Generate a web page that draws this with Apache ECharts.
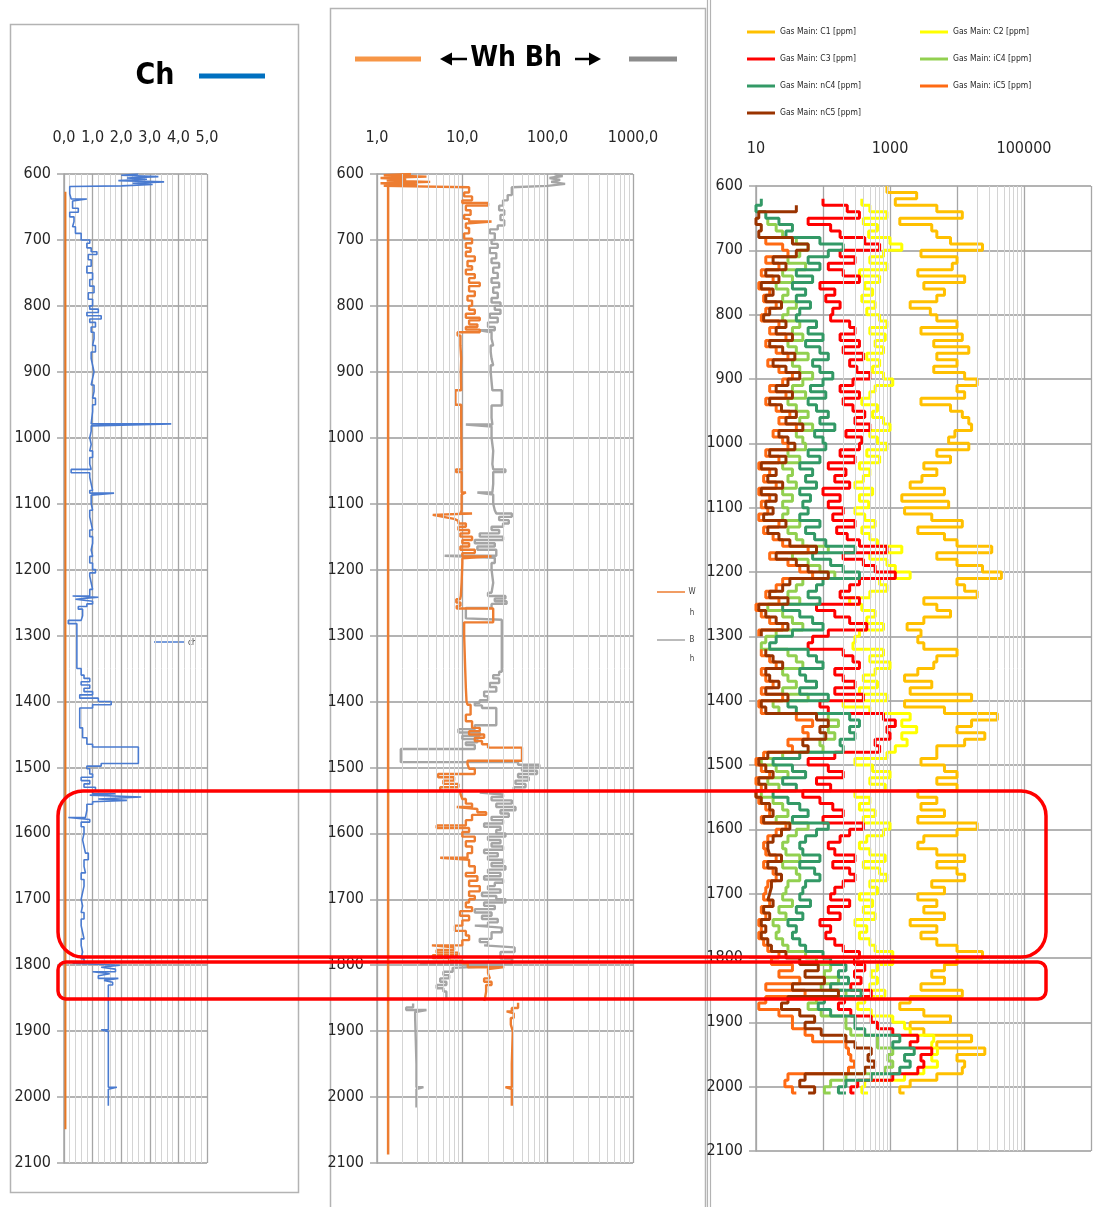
<!DOCTYPE html>
<html>
<head>
<meta charset="utf-8">
<script src="https://cdn.jsdelivr.net/npm/echarts@6/dist/echarts.min.js"></script>
<style>
html, body { margin: 0; padding: 0; background: #fff; }
#chart { width: 1116px; height: 1207px; }
</style>
</head>
<body>
<div id="chart"></div>
<script>
// Ch log: [depth, value]
var chLog = [
  [600, 2.6], [602, 2.0], [604, 3.3], [606, 2.2], [608, 2.9], [610, 1.9], [612, 3.5], [614, 2.4], [616, 3.1], [618, 2.0],
  [619, 0.2], [630, 0.25], [638, 0.8], [641, 0.3], [652, 0.5], [658, 0.2], [665, 0.35], [672, 0.3], [680, 0.4], [690, 0.6],
  [700, 0.9], [705, 0.8], [712, 0.95], [718, 1.15], [722, 0.85], [730, 0.95], [740, 0.8], [750, 1.0], [760, 0.9], [770, 1.05],
  [780, 0.85], [790, 1.0], [800, 0.9], [805, 1.2], [810, 0.8], [815, 1.3], [820, 0.9], [825, 1.1], [832, 0.95], [840, 1.05],
  [850, 1.0], [860, 1.1], [870, 0.95], [880, 1.0], [890, 1.05], [900, 1.0], [910, 0.95], [920, 1.05], [930, 1.0], [940, 1.1],
  [950, 1.0], [960, 0.95], [979, 3.75], [982, 0.95], [990, 0.9], [1000, 0.95], [1010, 0.9], [1020, 1.0], [1030, 0.9], [1040, 0.95],
  [1048, 0.25], [1053, 0.9], [1060, 0.95], [1070, 1.0], [1080, 0.9], [1084, 1.75], [1087, 0.95], [1100, 1.0], [1110, 0.9], [1120, 0.95],
  [1130, 1.0], [1140, 0.9], [1150, 1.0], [1160, 0.95], [1170, 1.0], [1180, 0.9], [1190, 1.0], [1200, 1.1], [1205, 0.9], [1210, 0.95],
  [1220, 1.0], [1230, 0.9], [1240, 0.3], [1242, 1.2], [1245, 0.4], [1248, 1.0], [1252, 0.8], [1256, 0.5], [1260, 0.65], [1270, 0.6],
  [1277, 0.15], [1282, 0.45], [1350, 0.6], [1360, 0.7], [1365, 0.9], [1370, 0.6], [1375, 0.9], [1380, 0.7], [1385, 1.0], [1390, 0.55],
  [1395, 1.2], [1400, 1.65], [1405, 1.0], [1410, 0.55], [1420, 0.55], [1440, 0.65], [1455, 0.8], [1465, 1.0], [1469, 2.6], [1494, 1.3],
  [1498, 0.8], [1502, 0.9], [1510, 1.0], [1515, 0.6], [1520, 0.9], [1525, 0.7], [1530, 1.1], [1535, 1.0], [1540, 1.8], [1542, 0.9],
  [1545, 2.7], [1548, 1.2], [1550, 2.2], [1552, 1.0], [1556, 0.8], [1565, 0.75], [1576, 0.15], [1579, 0.9], [1583, 0.6], [1590, 0.7],
  [1600, 0.65], [1610, 0.7], [1620, 0.75], [1630, 0.85], [1640, 0.7], [1650, 0.75], [1660, 0.6], [1670, 0.7], [1680, 0.65], [1690, 0.6],
  [1700, 0.65], [1710, 0.6], [1720, 0.7], [1730, 0.6], [1740, 0.65], [1750, 0.7], [1760, 0.6], [1770, 0.65], [1780, 0.6], [1790, 0.7],
  [1797, 0.3], [1800, 1.95], [1803, 1.3], [1806, 1.8], [1810, 1.0], [1813, 1.6], [1816, 1.2], [1820, 1.9], [1823, 1.4], [1826, 1.7],
  [1830, 1.55], [1898, 1.3], [1901, 1.55], [1985, 1.85], [1988, 1.55], [2013, 1.55]
];
var chBase = [[627, 0.05], [2049, 0.05]];

// Wh / Bh logs: [depth, value], null = gap
var whLog = [
  [600, 2.5], [602, 1.2], [604, 3.8], [606, 1.1], [608, 2.2], [610, 1.3], [612, 4.2], [614, 1.1], [616, 3.0], [618, 1.2],
  [620, 12], [628, 10.5], [634, 13], [640, 10], [644, 20], [648, 11], [655, 12.5], [662, 10.5], [668, 12], [672, 22],
  [675, 11], [682, 12], [690, 10.5], [698, 13], [705, 11], [712, 12.5], [718, 11], [725, 14], [732, 11.5], [740, 13],
  [745, 11], [752, 14], [758, 12], [765, 16], [770, 12], [778, 14], [785, 11.5], [792, 13], [800, 12], [806, 14],
  [812, 11], [818, 16], [822, 12], [828, 15], [832, 11], [836, 16], [840, 8.8], [845, 9.5], [860, 9.7], [880, 9.6],
  [900, 9.7], [928, 8.3], [950, 9.7], [980, 9.8], [1048, 8.4], [1052, 9.8], [1083, 11], [1086, 9.8], [1110, 9.5], [1115, 13],
  [1117, 4.5], [1120, 6], [1123, 8], [1126, 9], [1130, 11], [1135, 9], [1140, 12], [1145, 9.5], [1150, 13], [1155, 10],
  [1160, 12], [1165, 9.5], [1170, 14], [1175, 10], [1180, 22], [1183, 10], [1190, 9.8], [1220, 9.6], [1240, 9.4], [1245, 8.5],
  [1250, 9.5], [1255, 8.6], [1259, 23], [1280, 10.5], [1300, 10.8], [1350, 11], [1380, 11.2], [1400, 11.5], [1405, 12.5], [1420, 11],
  [1430, 13], [1440, 16], [1445, 12], [1450, 18], [1455, 14], [1460, 17], [1465, 20], [1470, 50], [1490, 11.5], [1495, 12],
  [1502, 14], [1510, 5.2], [1515, 8], [1520, 6], [1525, 9], [1530, 5.5], [1535, 9.5], [1540, 10], [1548, 11], [1555, 13],
  [1560, 8.6], [1563, 15], [1568, 19], [1572, 13], [1580, 11], [1588, 5], [1592, 12], [1598, 10], [1605, 14], [1612, 11],
  [1620, 13], [1630, 11.5], [1637, 5.5], [1640, 12], [1650, 14], [1660, 11], [1665, 15], [1672, 12], [1680, 16], [1688, 12],
  [1695, 14], [1700, 12], [1705, 11], [1712, 13], [1718, 9.4], [1725, 12], [1732, 10], [1740, 8.2], [1748, 11], [1755, 12],
  [1762, 10], [1770, 4.4], [1773, 8], [1777, 5], [1781, 9], [1785, 4.5], [1789, 7], [1793, 10], [1797, 11.6], [1803, 31],
  [1806, 20], [1812, 19], [1815, 21], [1820, 18], [1825, 22], [1830, 19], [1840, 18.5], [1849, 18], [1852, 18], [1854, null],
  [1857, 45], [1865, 38], [1870, 33], [1873, 40], [1880, 37], [1890, 39], [1900, 38], [1950, 38], [1985, 32], [1988, 38],
  [2013, 38]
];
var bhLog = [
  [600, 120], [603, 150], [606, 105], [609, 140], [612, 110], [615, 160], [618, 100], [620, 38], [632, 34], [640, 30],
  [648, 27], [655, 31], [662, 28], [670, 31], [678, 26], [684, 21], [690, 24], [700, 22], [706, 26], [712, 21],
  [720, 25], [728, 22], [735, 27], [742, 23], [750, 26], [758, 22], [765, 27], [772, 23], [780, 26], [788, 22],
  [795, 28], [800, 24], [806, 28], [812, 21], [818, 26], [825, 20], [832, 24], [837, 16], [840, 22], [850, 23],
  [860, 21.5], [870, 22], [880, 23], [890, 21.5], [900, 22], [915, 22.5], [928, 29], [951, 22], [970, 22.5], [980, 11],
  [983, 22], [1000, 23], [1020, 22.5], [1040, 23], [1048, 32], [1052, 23], [1070, 22.5], [1083, 15], [1086, 23], [1100, 24],
  [1110, 25], [1115, 38], [1120, 27], [1125, 35], [1130, 30], [1135, 22], [1140, 27], [1145, 16], [1150, 30], [1155, 14],
  [1160, 24], [1165, 15], [1170, 25], [1179, 6.2], [1182, 24], [1190, 22], [1200, 23], [1220, 22], [1235, 20], [1240, 32],
  [1244, 24], [1248, 33], [1252, 22], [1258, 11], [1274, 11], [1276, 29], [1355, 27], [1360, 23], [1365, 27], [1372, 21],
  [1378, 25], [1385, 18], [1392, 20], [1398, 16], [1402, 14], [1406, 17], [1410, 25], [1436, 14], [1442, 9], [1447, 16],
  [1452, 10], [1457, 15], [1462, 11], [1466, 14], [1472, 1.9], [1492, 45], [1496, 80], [1500, 50], [1505, 75], [1510, 45],
  [1515, 60], [1520, 42], [1525, 55], [1530, 40], [1535, 50], [1538, 16], [1541, 30], [1545, 22], [1550, 38], [1555, 25],
  [1560, 42], [1565, 28], [1570, 35], [1575, 22], [1580, 30], [1585, 18], [1590, 28], [1595, 25], [1600, 32], [1605, 20],
  [1610, 28], [1615, 22], [1620, 30], [1625, 18], [1630, 26], [1635, 20], [1640, 30], [1645, 22], [1650, 32], [1655, 20],
  [1660, 28], [1665, 18], [1670, 30], [1675, 24], [1680, 20], [1685, 28], [1690, 17], [1695, 25], [1700, 32], [1705, 18],
  [1710, 24], [1715, 14], [1720, 22], [1725, 17], [1730, 26], [1735, 20], [1740, 14], [1743, 29], [1750, 22], [1760, 16],
  [1765, 20], [1770, 18], [1773, 41], [1780, 28], [1790, 38], [1798, 3.2], [1801, 30], [1804, 7.7], [1810, 6], [1815, 7],
  [1820, 5.5], [1825, 6.5], [1830, 5], [1835, 6], [1840, 6.5], [1849, 6.5], [1852, null], [1858, 2.65], [1864, 2.2], [1868, 3.8],
  [1871, 2.8], [1880, 2.9], [1950, 2.9], [1985, 3.5], [1988, 2.9], [2016, 2.9]
];
var whBase = [[612, 1.35], [2087, 1.35]];

// Gas readings every 10 m from 600 m (ppm)
var gasNames = ['Gas Main: C1 [ppm]', 'Gas Main: C2 [ppm]', 'Gas Main: C3 [ppm]', 'Gas Main: iC4 [ppm]',
  'Gas Main: nC4 [ppm]', 'Gas Main: iC5 [ppm]', 'Gas Main: nC5 [ppm]'];
var gasColors = ['#ffc000', '#ffff00', '#ff0000', '#92d050', '#339966', '#ff6a13', '#993300'];
var gasDepth = [];
for (var d = 600; d <= 2010; d += 10) gasDepth.push(d);

var c1 = [
  900, 2500, 1200, 5000, 12000, 1400, 4200, 5000, 8000, 24000,
  2900, 10000, 8500, 2600, 13000, 3200, 6500, 5000, 2000, 4000,
  5000, 10000, 2900, 12000, 4500, 15000, 5000, 10000, 4500, 13000,
  20000, 10000, 13000, 2900, 8000, 12000, 15000, 16500, 9300, 7500,
  15000, 5000, 8000, 3200, 5000, 3000, 2000, 6500, 1500, 7500,
  1650, 4200, 12000, 2600, 6500, 10000, 33000, 5000, 10000, 24000,
  46000, 10000, 13000, 20000, 3200, 5000, 8000, 3200, 1800, 2900,
  2600, 3200, 10000, 5000, 4500, 2600, 1650, 4200, 2000, 16500,
  1650, 6500, 40000, 16500, 10000, 26000, 13000, 5000, 5000, 2900,
  6500, 10000, 5000, 10000, 2600, 5000, 2900, 6500, 2600, 20000,
  10000, 3200, 2600, 5000, 13000, 5000, 10000, 13000, 4200, 6500,
  2600, 5000, 3200, 6500, 2000, 5000, 2900, 5000, 10000, 24000,
  10000, 6500, 4200, 6500, 2900, 12000, 2000, 1400, 3200, 8000,
  2000, 3200, 16500, 5000, 26000, 10000, 13000, 12000, 5000, 2000,
  1400, 1650
];
var c2 = [
  null, null, 380, 500, 900, 400, 650, 480, 1000, 1500,
  800, 500, 900, 350, 700, 420, 550, 380, 600, 450,
  700, 900, 500, 850, 600, 800, 450, 700, 550, 800,
  1100, 600, 500, 380, 650, 550, 800, 1000, 500, 650,
  900, 450, 700, 350, 500, 400, 300, 550, 350, 480,
  300, 420, 600, 380, 500, 650, 1500, 500, 900, 1200,
  2000, 700, 900, 500, 250, 380, 600, 450, 800, 350,
  300, 280, 800, 500, 1000, 600, 400, 650, 350, 900,
  200, 500, 2000, 1500, 2500, 1500, 1800, 1200, 900, 300,
  550, 1000, 500, 850, 300, 500, 350, 600, 400, 1000,
  800, 450, 350, 500, 850, 400, 700, 900, 500, 650,
  350, 550, 400, 600, 300, 450, 350, 500, 600, 1100,
  1100, 650, 525, 650, 500, 840, 420, 330, 525, 1100,
  1650, 2000, 4500, 4200, 5100, 4200, 5100, 3200, 1650, 420,
  380, 470
];
var c3 = [
  null, null, 100, 230, 350, 60, 130, 180, 420, 700,
  180, 300, 120, 200, 350, 90, 150, 110, 180, 140,
  130, 250, 300, 180, 350, 200, 400, 250, 320, 500,
  280, 180, 350, 200, 280, 420, 300, 500, 220, 380,
  350, 180, 300, 120, 220, 150, 250, 100, 180, 120,
  200, 140, 300, 160, 230, 350, 900, 200, 400, 600,
  1200, 350, 250, 180, 350, 80, 150, 250, 450, 120,
  70, 60, 200, 280, 350, 150, 200, 300, 150, 400,
  90, 120, 800, 1200, 900, 1000, 600, 700, 150, 60,
  120, 200, 80, 130, 50, 90, 140, 200, 100, 400,
  250, 180, 120, 150, 300, 140, 250, 300, 200, 150,
  130, 250, 120, 180, 90, 130, 110, 150, 200, 350,
  295, 420, 295, 370, 260, 525, 210, 170, 260, 525,
  650, 1100, 2600, 2000, 4200, 2900, 3200, 2600, 1100, 330,
  260, 295
];
var ic4 = [
  null, null, null, null, null, 15, 20, 25, 40, 60,
  45, 30, 55, 25, 35, 20, 30, 25, 40, 30,
  25, 45, 35, 50, 30, 40, 60, 35, 45, 70,
  50, 35, 55, 30, 40, 60, 45, 70, 40, 50,
  55, 30, 45, 25, 35, 30, 40, 25, 35, 25,
  30, 25, 45, 30, 40, 50, 120, 35, 60, 90,
  150, 50, 40, 30, 45, 15, 25, 35, 50, 20,
  14, 12, 30, 40, 50, 25, 30, 40, 25, 60,
  18, 22, 120, 170, 120, 150, 90, 100, 25, 12,
  20, 30, 15, 22, 12, 18, 25, 30, 20, 60,
  40, 30, 25, 28, 45, 25, 40, 45, 30, 28,
  25, 35, 22, 28, 18, 22, 20, 25, 30, 55,
  80, 130, 105, 170, 94, 220, 80, 60, 94, 220,
  220, 260, 650, 650, 1100, 930, 1100, 840, 220, 130,
  105, 130
];
var nc4 = [
  null, null, 12, 10, 14, 22, 35, 28, 90, 200,
  120, 60, 90, 40, 70, 35, 55, 40, 65, 45,
  40, 80, 60, 100, 55, 90, 120, 70, 90, 140,
  100, 65, 110, 60, 80, 120, 90, 150, 75, 100,
  110, 60, 90, 45, 70, 55, 80, 45, 65, 50,
  60, 45, 90, 55, 75, 110, 300, 70, 130, 200,
  350, 100, 80, 60, 90, 25, 45, 70, 100, 35,
  20, 16, 60, 80, 100, 45, 55, 80, 45, 120,
  30, 40, 250, 350, 250, 300, 180, 200, 45, 18,
  35, 55, 25, 40, 18, 30, 45, 60, 35, 120,
  80, 55, 45, 50, 90, 45, 75, 90, 55, 50,
  45, 65, 40, 50, 30, 40, 35, 45, 55, 100,
  130, 220, 170, 240, 130, 370, 105, 85, 130, 300,
  300, 420, 1400, 1100, 2300, 1650, 2000, 1400, 525, 220,
  170, 220
];
var ic5 = [
  null, null, null, null, null, null, null, null, 14, 25,
  30, 14, 22, 12, 18, 11, 16, 13, 20, 14,
  12, 22, 16, 28, 14, 20, 30, 15, 22, 35,
  25, 16, 28, 14, 20, 32, 22, 40, 18, 25,
  30, 14, 22, 11, 16, 13, 20, 11, 16, 12,
  15, 11, 22, 13, 18, 25, 60, 16, 30, 45,
  70, 25, 20, 14, 22, 10, 12, 16, 25, 11,
  null, null, 12, 16, 20, 12, 14, 18, 12, 25,
  11, 12, 40, 70, 50, 60, 30, 35, 13, 10,
  12, 16, 10, 12, 10, 11, 14, 16, 12, 28,
  20, 15, 13, 14, 20, 13, 18, 20, 15, 14,
  13, 16, 12, 14, 11, 12, 11, 13, 15, 22,
  17, 35, 22, 45, 14, 54, 14, 11, 22, 35,
  35, 54, 70, 220, 240, 260, 295, 240, 30, 27,
  35, 40
];
var nc5 = [
  null, null, null, 40, 11, 10, 12, 11, 35, 60,
  40, 18, 28, 14, 22, 12, 18, 14, 24, 16,
  13, 28, 20, 35, 16, 25, 38, 18, 28, 45,
  30, 20, 35, 16, 24, 40, 28, 50, 22, 30,
  38, 16, 28, 12, 20, 15, 25, 12, 20, 14,
  18, 13, 28, 15, 22, 32, 80, 20, 40, 60,
  120, 32, 25, 16, 30, 11, 14, 20, 30, 12,
  null, null, 14, 18, 25, 14, 16, 22, 14, 30,
  12, 14, 80, 120, 90, 110, 50, 60, 15, 11,
  14, 18, 11, 14, 10, 12, 16, 18, 13, 32,
  24, 18, 15, 16, 24, 15, 20, 24, 17, 16,
  15, 18, 13, 16, 12, 14, 12, 15, 17, 28,
  45, 85, 54, 105, 35, 170, 30, 24, 45, 75,
  54, 94, 220, 300, 525, 470, 590, 420, 54, 45,
  75, 60
];
var gasValues = [c1, c2, c3, ic4, nc4, ic5, nc5];

var FONT = '"DejaVu Sans Condensed", "Liberation Sans Narrow", "Liberation Sans", sans-serif';
var MAJOR = '#a6a6a6';
var MINOR = '#d4d4d4';

function toPoints(log) {
  return log.map(function (p) { return [p[1] == null ? '-' : p[1], p[0]]; });
}
function gasPoints(vals) {
  return gasDepth.map(function (dep, i) { return [vals[i] == null ? '-' : vals[i], dep]; });
}

function depthAxis(grid) {
  return {
    type: 'value', gridIndex: grid, inverse: true, min: 600, max: 2100, interval: 100,
    axisLine: { show: true, lineStyle: { color: MAJOR, width: 1.5 } },
    axisTick: { show: true, length: 7, lineStyle: { color: MAJOR, width: 1.5 } },
    axisLabel: { margin: 13, fontFamily: FONT, fontSize: 16, color: '#262626',
      formatter: function (v) { return String(v); } },
    splitLine: { show: true, lineStyle: { color: '#9a9a9a', width: 1.6 } }
  };
}

function logLine(name, xi, data, color, width, z) {
  return {
    name: name, type: 'line', xAxisIndex: xi, yAxisIndex: xi, data: data,
    step: 'start', showSymbol: false, symbol: 'none', z: z || 3,
    lineStyle: { color: color, width: width }, itemStyle: { color: color },
    emphasis: { disabled: true }, clip: true
  };
}

function minorGrid(xi, vals) {
  return {
    type: 'line', xAxisIndex: xi, yAxisIndex: xi, data: [], silent: true, z: 1,
    markLine: {
      silent: true, symbol: ['none', 'none'], label: { show: false },
      lineStyle: { color: MINOR, width: 1, type: 'solid' },
      emphasis: { disabled: true },
      data: vals.map(function (v) { return { xAxis: v }; })
    }
  };
}

var minor2 = [], minor3 = [];
[1, 10, 100].forEach(function (b) { for (var k = 2; k <= 9; k++) minor2.push(b * k); });
[100, 10000].forEach(function (b) { for (var k = 2; k <= 9; k++) minor3.push(b * k); });

var series = [
  minorGrid(1, minor2),
  minorGrid(2, minor3),
  logLine('Ch', 0, toPoints(chLog), '#4a7bd0', 1.6),
  logLine('ChBase', 0, toPoints(chBase), '#e87722', 2),
  logLine('Bh', 1, toPoints(bhLog), '#a5a5a5', 2.4),
  logLine('Wh', 1, toPoints(whLog), '#ed7d31', 2.4),
  logLine('WhBase', 1, toPoints(whBase), '#ed7d31', 2.5)
];
gasNames.forEach(function (n, i) {
  series.push(logLine(n, 2, gasPoints(gasValues[i]), gasColors[i], 3));
});

var legendText = { fontFamily: FONT, fontSize: 8.5, color: '#262626', lineHeight: 10 };

var option = {
  animation: false,
  backgroundColor: '#fff',
  grid: [
    { left: 64, top: 174, width: 143, height: 989, outerBoundsMode: 'none', containLabel: false },
    { left: 377, top: 174, width: 256, height: 989, outerBoundsMode: 'none', containLabel: false },
    { left: 756, top: 186, width: 335, height: 965, outerBoundsMode: 'none', containLabel: false }
  ],
  xAxis: [
    {
      type: 'value', gridIndex: 0, position: 'top', min: 0, max: 5, interval: 1,
      axisLine: { show: false }, axisTick: { show: false },
      axisLabel: { margin: 28, fontFamily: FONT, fontSize: 16, color: '#262626',
        formatter: function (v) { return v.toFixed(1).replace('.', ','); } },
      splitLine: { show: true, lineStyle: { color: MAJOR, width: 1.3 } },
      minorTick: { show: false, splitNumber: 5 },
      minorSplitLine: { show: true, lineStyle: { color: MINOR, width: 1 } }
    },
    {
      type: 'log', logBase: 10, gridIndex: 1, position: 'top', min: 1, max: 1000,
      axisLine: { show: false }, axisTick: { show: false },
      axisLabel: { margin: 28, fontFamily: FONT, fontSize: 16, color: '#262626',
        formatter: function (v) { return Math.round(v).toFixed(1).replace('.', ','); } },
      splitLine: { show: true, lineStyle: { color: MAJOR, width: 1.3 } }
    },
    {
      type: 'log', logBase: 10, gridIndex: 2, position: 'top', min: 10, max: 1000000,
      axisLine: { show: false }, axisTick: { show: false },
      axisLabel: { margin: 29, fontFamily: FONT, fontSize: 16, color: '#262626',
        formatter: function (v) {
          var e = Math.round(Math.log(v) / Math.LN10);
          return e % 2 === 1 ? String(Math.pow(10, e)) : '';
        } },
      splitLine: { show: true, lineStyle: { color: MAJOR, width: 1.3 } }
    }
  ],
  yAxis: [depthAxis(0), depthAxis(1), depthAxis(2)],
  legend: [
    {
      left: 742, top: 22, orient: 'vertical', icon: 'rect', itemWidth: 28, itemHeight: 3, itemGap: 17,
      data: [gasNames[0], gasNames[2], gasNames[4], gasNames[6]], textStyle: legendText, selectedMode: false
    },
    {
      left: 915, top: 22, orient: 'vertical', icon: 'rect', itemWidth: 28, itemHeight: 3, itemGap: 17,
      data: [gasNames[1], gasNames[3], gasNames[5]], textStyle: legendText, selectedMode: false
    }
  ],
  series: series,
  graphic: [
    // panel frames
    { type: 'rect', z: 0, shape: { x: 10.5, y: 24.5, width: 288, height: 1168 },
      style: { fill: 'none', stroke: '#b3b3b3', lineWidth: 1.5 } },
    { type: 'rect', z: 0, shape: { x: 330.5, y: 8.5, width: 375, height: 1215 },
      style: { fill: 'none', stroke: '#b3b3b3', lineWidth: 1.5 } },
    { type: 'line', z: 0, shape: { x1: 707.5, y1: 0, x2: 707.5, y2: 1207 }, style: { stroke: '#b3b3b3', lineWidth: 1.2 } },
    { type: 'line', z: 0, shape: { x1: 710.5, y1: 0, x2: 710.5, y2: 1207 }, style: { stroke: '#b3b3b3', lineWidth: 1.2 } },

    // panel 1 heading
    { type: 'text', x: 155, y: 76, style: { text: 'Ch', font: 'bold 30px ' + FONT, fill: '#000',
      textAlign: 'center', textVerticalAlign: 'middle' } },
    { type: 'line', shape: { x1: 199, y1: 76, x2: 265, y2: 76 }, style: { stroke: '#0070c0', lineWidth: 5 } },
    { type: 'line', shape: { x1: 154, y1: 642, x2: 185, y2: 642 }, style: { stroke: '#4a7bd0', lineWidth: 1.5 } },
    { type: 'text', x: 188, y: 643, style: { text: 'ch', font: '8px ' + FONT, fill: '#404040',
      textAlign: 'left', textVerticalAlign: 'middle' } },

    // panel 2 heading
    { type: 'line', shape: { x1: 355, y1: 59, x2: 421, y2: 59 }, style: { stroke: '#f79646', lineWidth: 5 } },
    { type: 'line', shape: { x1: 448, y1: 59, x2: 467, y2: 59 }, style: { stroke: '#000', lineWidth: 2.5 } },
    { type: 'polygon', shape: { points: [[440, 59], [452, 52.5], [452, 65.5]] }, style: { fill: '#000' } },
    { type: 'text', x: 516, y: 59, style: { text: 'Wh Bh', font: 'bold 28px ' + FONT, fill: '#000',
      textAlign: 'center', textVerticalAlign: 'middle' } },
    { type: 'line', shape: { x1: 575, y1: 59, x2: 593, y2: 59 }, style: { stroke: '#000', lineWidth: 2.5 } },
    { type: 'polygon', shape: { points: [[601, 59], [589, 52.5], [589, 65.5]] }, style: { fill: '#000' } },
    { type: 'line', shape: { x1: 629, y1: 59, x2: 677, y2: 59 }, style: { stroke: '#8c8c8c', lineWidth: 5 } },

    // panel 2 inner legend
    { type: 'line', shape: { x1: 657, y1: 592, x2: 685, y2: 592 }, style: { stroke: '#ed7d31', lineWidth: 1.5 } },
    { type: 'text', x: 692, y: 592, style: { text: 'W', font: '8px ' + FONT, fill: '#404040',
      textAlign: 'center', textVerticalAlign: 'middle' } },
    { type: 'text', x: 692, y: 613, style: { text: 'h', font: '8px ' + FONT, fill: '#404040',
      textAlign: 'center', textVerticalAlign: 'middle' } },
    { type: 'line', shape: { x1: 657, y1: 640, x2: 685, y2: 640 }, style: { stroke: '#a5a5a5', lineWidth: 1.5 } },
    { type: 'text', x: 692, y: 640, style: { text: 'B', font: '8px ' + FONT, fill: '#404040',
      textAlign: 'center', textVerticalAlign: 'middle' } },
    { type: 'text', x: 692, y: 659, style: { text: 'h', font: '8px ' + FONT, fill: '#404040',
      textAlign: 'center', textVerticalAlign: 'middle' } },

    // highlighted depth intervals
    { type: 'rect', z: 100, shape: { x: 58, y: 791, width: 988, height: 166, r: 25 },
      style: { fill: 'none', stroke: '#ff0000', lineWidth: 3.5 } },
    { type: 'rect', z: 100, shape: { x: 58, y: 962, width: 988, height: 37, r: 8 },
      style: { fill: 'none', stroke: '#ff0000', lineWidth: 3.5 } }
  ]
};

var chart = echarts.init(document.getElementById('chart'), null, { renderer: 'canvas' });
chart.setOption(option);
</script>
</body>
</html>
